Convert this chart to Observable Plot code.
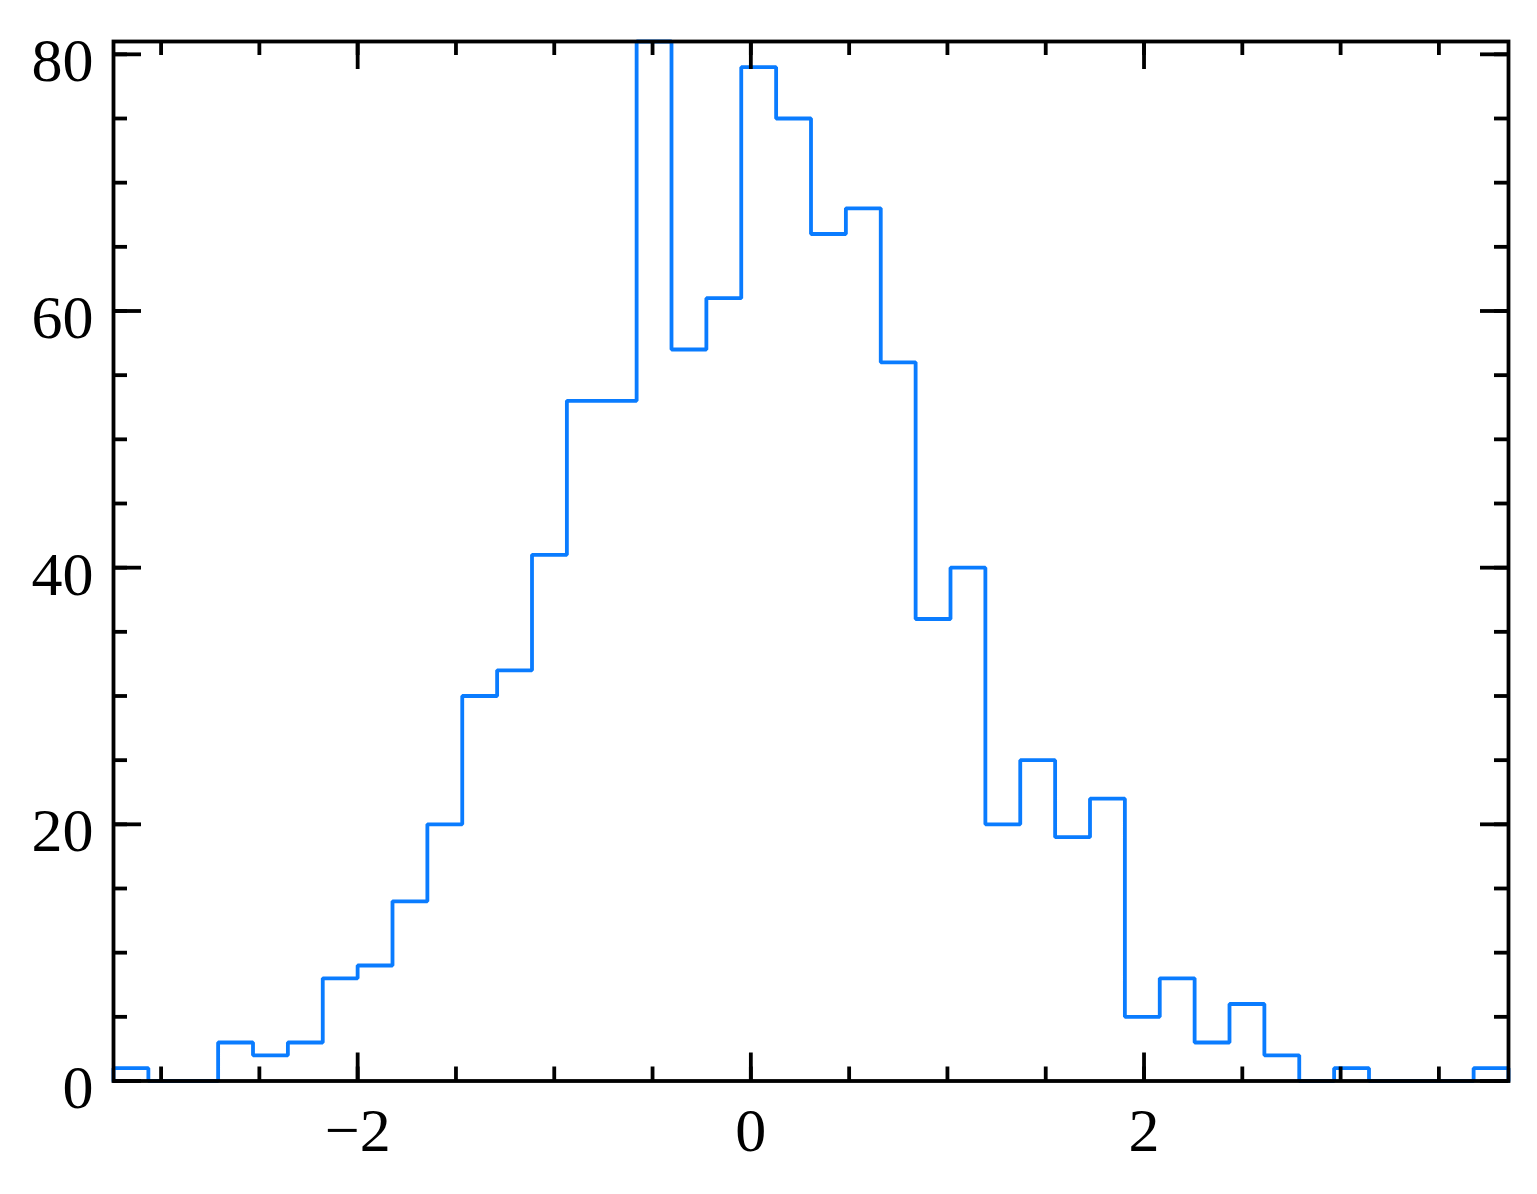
<!DOCTYPE html>
<html>
<head>
<meta charset="utf-8">
<script src="https://cdn.jsdelivr.net/npm/d3@7"></script>
<script src="https://cdn.jsdelivr.net/npm/@observablehq/plot@0.6"></script>
<style>
  html, body { margin: 0; padding: 0; background: white; }
</style>
</head>
<body>
<div id="chart"></div>
<script>
// Histogram counts (40 equal-width bins)
const counts = [1, 0, 0, 3, 2, 3, 8, 9, 14, 20, 30, 32, 41, 53, 53, 81, 57, 61, 79, 75,
                66, 68, 56, 36, 40, 20, 25, 19, 22, 5, 8, 3, 6, 2, 0, 1, 0, 0, 0, 1];
const binStart = -3.242;
const binEnd = 3.854;
const xMajor = [-2, 0, 2];
const xMinor = [-3, -2.5, -2, -1.5, -1, -0.5, 0, 0.5, 1, 1.5, 2, 2.5, 3, 3.5];
const yMajor = [0, 20, 40, 60, 80];
const yMinor = [0, 5, 10, 15, 20, 25, 30, 35, 40, 45, 50, 55, 60, 65, 70, 75, 80];
const yMax = 81;

const W = 1537, H = 1194;
const mL = 113, mR = 29, mT = 41, mB = 113.5;
const innerW = W - mL - mR, innerH = H - mT - mB;
const majLen = 28, minLen = 14, tickW = 3.8;

// step outline of histogram
const nb = counts.length;
const bw = (binEnd - binStart) / nb;
const pts = [{x: binStart, y: 0}];
counts.forEach((c, i) => pts.push({x: binStart + i * bw, y: c}));
pts.push({x: binEnd, y: counts[nb - 1]});
pts.push({x: binEnd, y: 0});

const fmt = d => d < 0 ? "\u2212" + Math.abs(d) : String(d);
const tk = {stroke: "black", strokeWidth: tickW};

const chart = Plot.plot({
  width: W, height: H,
  marginLeft: mL, marginRight: mR, marginTop: mT, marginBottom: mB,
  x: {domain: [binStart, binEnd]},
  y: {domain: [0, yMax]},
  style: {fontFamily: "'Liberation Serif', 'Times New Roman', serif", fontSize: "62px", color: "black", background: "white"},
  marks: [
    Plot.line(pts, {x: "x", y: "y", curve: "step-after", stroke: "#0A7CFF", strokeWidth: 3.8, strokeLinejoin: "miter"}),
    // x ticks bottom/top
    Plot.tickX(xMinor, {x: d => d, insetTop: innerH - minLen, ...tk}),
    Plot.tickX(xMinor, {x: d => d, insetBottom: innerH - minLen, ...tk}),
    Plot.tickX(xMajor, {x: d => d, insetTop: innerH - majLen, ...tk}),
    Plot.tickX(xMajor, {x: d => d, insetBottom: innerH - majLen, ...tk}),
    // y ticks left/right
    Plot.tickY(yMinor, {y: d => d, insetRight: innerW - minLen, ...tk}),
    Plot.tickY(yMinor, {y: d => d, insetLeft: innerW - minLen, ...tk}),
    Plot.tickY(yMajor, {y: d => d, insetRight: innerW - majLen, ...tk}),
    Plot.tickY(yMajor, {y: d => d, insetLeft: innerW - majLen, ...tk}),
    Plot.frame({stroke: "black", strokeWidth: 3.8}),
    Plot.axisX(xMajor, {tickSize: 0, tickPadding: 25.5, tickFormat: fmt, label: null}),
    Plot.axisY(yMajor, {tickSize: 0, tickPadding: 20, dy: 7, tickFormat: fmt, label: null})
  ]
});
document.getElementById("chart").appendChild(chart);
</script>
</body>
</html>
